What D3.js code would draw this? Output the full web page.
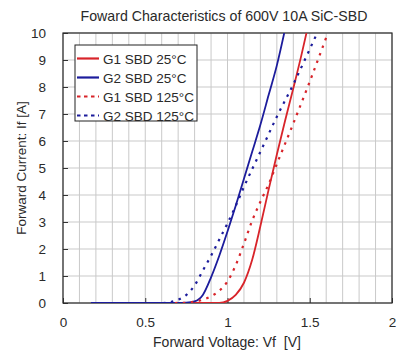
<!DOCTYPE html>
<html><head><meta charset="utf-8">
<script src="https://cdn.jsdelivr.net/npm/d3@7"></script>
<style>body{margin:0;background:#fff}svg{display:block}text{font-family:"Liberation Sans",Arial,sans-serif;fill:#2a2a2a;white-space:pre}</style>
</head><body><svg id="c" width="419" height="359"></svg>
<script>
const title = "Foward Characteristics of 600V 10A SiC-SBD";
const xLabel = "Forward Voltage: Vf  [V]";
const yLabel = "Forward Current: If [A]";
const xTicks = [0, 0.5, 1, 1.5, 2];
const yTicks = [0,1,2,3,4,5,6,7,8,9,10];
const seriesNames = ["G1 SBD 25°C","G2 SBD 25°C","G1 SBD 125°C","G2 SBD 125°C"];
const seriesColors = ["#d8242a","#1c1c9c","#d8242a","#1c1c9c"];
const seriesDashed = [false,false,true,true];
const g1_25_v = [0.68,0.95,1.0,1.05,1.1,1.15,1.2,1.25,1.3,1.35,1.4,1.45,1.48];
const g1_25_i = [0,0,0.08,0.3,0.75,1.6,2.85,4.2,5.5,6.75,7.95,9.2,10];
const g2_25_v = [0.17,0.7,0.75,0.8,0.85,0.9,0.95,1.0,1.05,1.1,1.15,1.2,1.25,1.3,1.345];
const g2_25_i = [0,0,0.01,0.06,0.3,0.95,1.75,2.65,3.6,4.6,5.6,6.6,7.7,8.8,10];
const g1_125_v = [0.68,0.75,0.8,0.85,0.9,0.95,1.0,1.05,1.1,1.15,1.2,1.25,1.3,1.4,1.5,1.61];
const g1_125_i = [0,0.01,0.05,0.12,0.25,0.45,0.8,1.4,2.2,3.05,3.75,4.4,5.15,6.65,8.2,10];
const g2_125_v = [0.17,0.6,0.65,0.7,0.75,0.8,0.85,0.9,0.95,1.0,1.05,1.1,1.2,1.3,1.4,1.5,1.545];
const g2_125_i = [0,0,0.03,0.12,0.3,0.65,1.2,1.75,2.35,2.95,3.6,4.3,5.6,6.9,8.1,9.4,10];
const seriesV = [g1_25_v, g2_25_v, g1_125_v, g2_125_v];
const seriesI = [g1_25_i, g2_25_i, g1_125_i, g2_125_i];

const svg = d3.select("#c");
const L = 63, R = 392, T = 33, B = 303;
const x = d3.scaleLinear().domain([0,2]).range([L,R]);
const y = d3.scaleLinear().domain([0,10]).range([B,T]);

// grid
const gx = d3.range(0, 21).map(d => d/10);
svg.append("g").selectAll("line").data(gx).join("line")
  .attr("x1", d => x(d)).attr("x2", d => x(d)).attr("y1", T).attr("y2", B)
  .attr("stroke", "#c9c9c9").attr("stroke-width", 1);
svg.append("g").selectAll("line").data(yTicks).join("line")
  .attr("y1", d => y(d)).attr("y2", d => y(d)).attr("x1", L).attr("x2", R)
  .attr("stroke", "#c9c9c9").attr("stroke-width", 1);

// axes
const xa = svg.append("g").attr("transform", `translate(0,${B})`)
  .call(d3.axisBottom(x).tickValues(xTicks).tickSize(-5).tickPadding(14).tickFormat(d3.format("")));
const ya = svg.append("g").attr("transform", `translate(${L},0)`)
  .call(d3.axisLeft(y).tickValues(yTicks).tickSize(-5).tickPadding(17));
[xa, ya].forEach(a => {
  a.select(".domain").remove();
  a.selectAll("line").attr("stroke", "#333");
  a.selectAll("text").attr("font-size", 13.5).attr("fill", "#2a2a2a")
   .style("font-family", '"Liberation Sans",Arial,sans-serif');
});
svg.append("rect").attr("x", L).attr("y", T).attr("width", R-L).attr("height", B-T)
  .attr("fill", "none").attr("stroke", "#2a2a2a").attr("stroke-width", 1.2);

// curves
const line = d3.line().x(d => x(d[0])).y(d => y(d[1])).curve(d3.curveMonotoneX);
svg.append("clipPath").attr("id","pc").append("rect")
  .attr("x", L).attr("y", T).attr("width", R-L).attr("height", B-T);
seriesV.forEach((vs, k) => {
  const pts = vs.map((v, j) => [v, seriesI[k][j]]);
  svg.append("path").attr("d", line(pts)).attr("fill", "none")
    .attr("clip-path", "url(#pc)")
    .attr("stroke", seriesColors[k]).attr("stroke-width", seriesDashed[k] ? 2.2 : 1.8)
    .attr("stroke-dasharray", seriesDashed[k] ? "2.5,5.5" : null);
});

// legend
const lg = svg.append("g");
lg.append("rect").attr("x", 75).attr("y", 45).attr("width", 122).attr("height", 76)
  .attr("fill", "#fff").attr("stroke", "#222").attr("stroke-width", 1);
seriesNames.forEach((n, k) => {
  const yy = 58.5 + k*19;
  lg.append("line").attr("x1", 77).attr("x2", 99).attr("y1", yy).attr("y2", yy)
    .attr("stroke", seriesColors[k]).attr("stroke-width", 2.2)
    .attr("stroke-dasharray", seriesDashed[k] ? "3.5,3.5" : null);
  lg.append("text").attr("x", 103).attr("y", yy + 5).attr("font-size", 13.5).text(n);
});

// titles
svg.append("text").attr("x", 224).attr("y", 21).attr("text-anchor", "middle")
  .attr("font-size", 14.2).text(title);
svg.append("text").attr("x", 227).attr("y", 347).attr("text-anchor", "middle")
  .attr("font-size", 14).text(xLabel);
svg.append("text").attr("transform", "translate(26,168) rotate(-90)").attr("text-anchor", "middle")
  .attr("font-size", 13.5).text(yLabel);
</script></body></html>
